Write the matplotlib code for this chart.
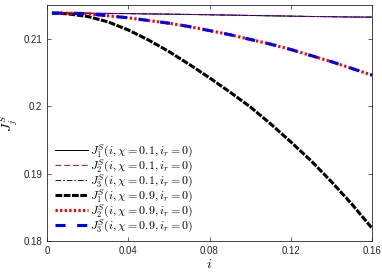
import numpy as np
import matplotlib
matplotlib.use('Agg')
import matplotlib.pyplot as plt

plt.rcParams['font.family'] = ['Liberation Sans', 'DejaVu Sans']
plt.rcParams['mathtext.fontset'] = 'cm'

# values
i_vals = [0.0025, 0.01, 0.02, 0.03, 0.04, 0.05, 0.06, 0.07, 0.08, 0.09,
          0.10, 0.11, 0.12, 0.13, 0.14, 0.15, 0.16]
# chi = 0.1 (all three nearly the same)
j_01 = [0.2138, 0.2138, 0.21378, 0.21375, 0.21372, 0.21368, 0.21364, 0.2136,
        0.21355, 0.2135, 0.21345, 0.2134, 0.21335, 0.2133, 0.21326,
        0.21322, 0.2132]
# chi = 0.9, J1
j1_09 = [0.2138, 0.2137, 0.2133, 0.2125, 0.2113, 0.2098, 0.2081, 0.2062,
         0.2042, 0.2021, 0.1999, 0.1974, 0.1947, 0.1919, 0.1888, 0.1855, 0.1819]
# chi = 0.9, J2 and J3
j23_09 = [0.2138, 0.2138, 0.2137, 0.2134, 0.2131, 0.2127, 0.2123, 0.2118,
          0.2112, 0.2106, 0.2099, 0.2092, 0.2084, 0.2075, 0.2066, 0.2056, 0.2046]

fig = plt.figure(figsize=(3.82, 2.73), dpi=100)
ax = fig.add_axes([47 / 382, 32 / 273, 325 / 382, 236 / 273])

lab = r'$J_{%d}^{S}(i,\chi=%s,i_r=0)$'
ax.plot(i_vals, j_01, color='black', lw=0.7, ls='-', label=lab % (1, '0.1'))
ax.plot(i_vals, j_01, color='red', lw=0.7, ls=(0, (6, 3)), label=lab % (2, '0.1'))
ax.plot(i_vals, j_01, color='blue', lw=0.7, ls=(0, (6, 2, 1.5, 2)), label=lab % (3, '0.1'))
ax.plot(i_vals, j1_09, color='black', lw=2.2, ls=(0, (2.2, 0.5)), label=lab % (1, '0.9'))
ax.plot(i_vals, j23_09, color='red', lw=2.2, ls=(0, (0.75, 0.75)), label=lab % (2, '0.9'))
ax.plot(i_vals, j23_09, color='blue', lw=2.2, ls=(0, (3.3, 3.8)), label=lab % (3, '0.9'))

ax.set_xlim(0, 0.16)
ax.set_ylim(0.18, 0.2150)
ax.set_xticks([0, 0.04, 0.08, 0.12, 0.16])
ax.set_xticklabels(['0', '0.04', '0.08', '0.12', '0.16'])
ax.set_yticks([0.18, 0.19, 0.2, 0.21])
ax.set_yticklabels(['0.18', '0.19', '0.2', '0.21'])
ax.tick_params(direction='in', top=True, right=True, labelsize=7,
               length=3, width=0.5, color='#262626', labelcolor='#262626')
for s in ax.spines.values():
    s.set_linewidth(0.6)
    s.set_color('#262626')

ax.set_xlabel(r'$i$', fontsize=10, labelpad=1)
ax.set_ylabel(r'$J_j^S$', fontsize=10, labelpad=2)

ax.legend(loc='lower left', bbox_to_anchor=(0.0, -0.008), frameon=False,
          fontsize=8.6, handlelength=2.7, handletextpad=0.2,
          labelspacing=-0.2, borderaxespad=0.3)

fig.savefig('out.png', dpi=100)
